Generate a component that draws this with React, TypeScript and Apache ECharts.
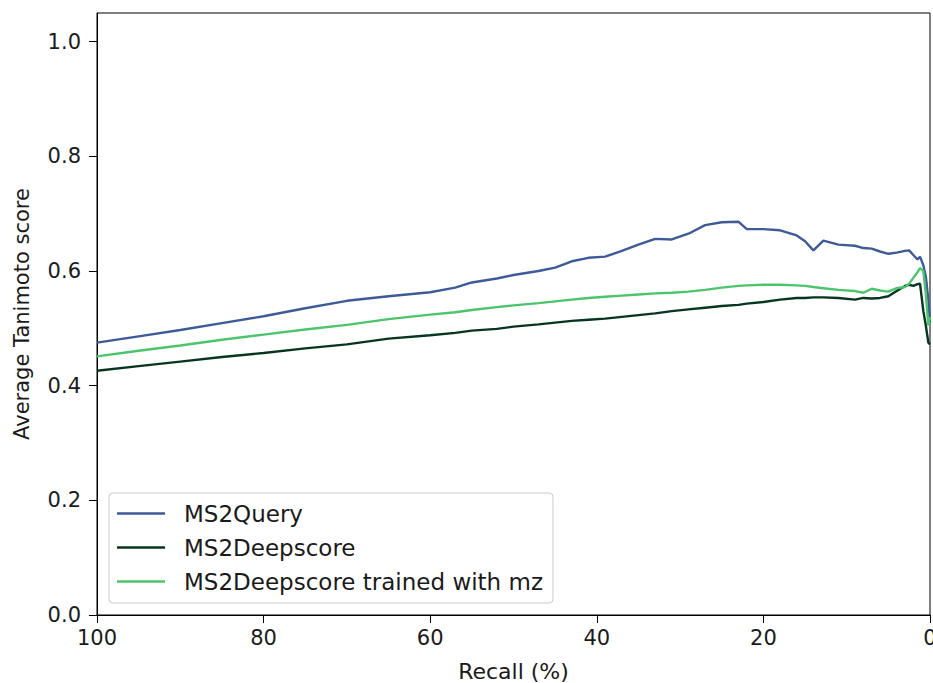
import React, { useEffect, useRef } from "react";
import * as echarts from "echarts";

const recall = [100, 95, 90, 85, 80, 75, 70, 65, 60, 57, 55, 52, 50, 47, 45, 43, 41, 39, 37, 35, 33, 31, 29, 27, 25, 23, 22, 20, 18, 16, 15, 14, 12.8, 11, 9, 8, 7, 6, 5, 4, 3, 2.5, 2, 1.5, 1.2, 0.8, 0.5, 0.2, 0];

const ms2query = [0.475, 0.486, 0.497, 0.509, 0.521, 0.535, 0.548, 0.556, 0.563, 0.571, 0.58, 0.587, 0.593, 0.6, 0.606, 0.617, 0.623, 0.625, 0.635, 0.646, 0.656, 0.655, 0.665, 0.68, 0.685, 0.686, 0.673, 0.673, 0.671, 0.662, 0.652, 0.636, 0.653, 0.646, 0.644, 0.64, 0.639, 0.634, 0.63, 0.632, 0.635, 0.636, 0.628, 0.62, 0.625, 0.61, 0.59, 0.55, 0.51];

const ms2deepscore = [0.426, 0.434, 0.442, 0.45, 0.457, 0.465, 0.472, 0.482, 0.488, 0.492, 0.496, 0.499, 0.503, 0.507, 0.51, 0.513, 0.515, 0.517, 0.52, 0.523, 0.526, 0.53, 0.533, 0.536, 0.539, 0.541, 0.543, 0.546, 0.55, 0.553, 0.553, 0.554, 0.554, 0.553, 0.55, 0.553, 0.552, 0.553, 0.556, 0.565, 0.574, 0.576, 0.574, 0.577, 0.578, 0.53, 0.505, 0.475, 0.472];

const ms2deepscoreMz = [0.451, 0.461, 0.47, 0.48, 0.489, 0.498, 0.506, 0.516, 0.524, 0.528, 0.532, 0.537, 0.54, 0.544, 0.547, 0.55, 0.553, 0.555, 0.557, 0.559, 0.561, 0.562, 0.564, 0.567, 0.571, 0.574, 0.575, 0.576, 0.576, 0.575, 0.574, 0.572, 0.57, 0.567, 0.565, 0.562, 0.569, 0.566, 0.564, 0.57, 0.572, 0.578, 0.588, 0.598, 0.605, 0.6, 0.56, 0.505, 0.52];

const seriesNames = ["MS2Query", "MS2Deepscore", "MS2Deepscore trained with mz"];
const seriesColors = ["#3f5a98", "#083520", "#4cc46c"];
const yTicks = [0, 0.2, 0.4, 0.6, 0.8, 1.0];

const FONT = "DejaVu Sans";
const TEXT = "#1a1a1a";

export default function App() {
  const ref = useRef<HTMLDivElement>(null);
  useEffect(() => {
    if (!ref.current) return;
    const chart = echarts.init(ref.current, undefined, { renderer: "svg" });
    const allData = [ms2query, ms2deepscore, ms2deepscoreMz];
    chart.setOption({
      animation: false,
      textStyle: { fontFamily: FONT },
      grid: {
        left: 97,
        right: 3,
        top: 13,
        bottom: 68,
        show: true,
        borderColor: "#000",
        borderWidth: 1,
        containLabel: false,
        outerBoundsMode: "none",
      },
      legend: {
        orient: "vertical",
        left: 109,
        top: 493,
        padding: [9, 10, 10, 8],
        itemGap: 11,
        itemWidth: 48,
        itemHeight: 2.5,
        icon: "rect",
        backgroundColor: "rgba(255,255,255,0.8)",
        borderColor: "#cccccc",
        borderWidth: 1,
        borderRadius: 4,
        textStyle: { fontFamily: FONT, fontSize: 23, color: TEXT, padding: [0, 0, 0, 14] },
        data: seriesNames,
      },
      xAxis: {
        type: "value",
        inverse: true,
        min: 0,
        max: 100,
        interval: 20,
        name: "Recall (%)",
        nameLocation: "middle",
        nameGap: 45,
        nameTextStyle: { fontFamily: FONT, fontSize: 22, color: TEXT },
        axisLine: { show: true, onZero: false, lineStyle: { color: "#000", width: 1 } },
        axisTick: { show: true, inside: false, length: 8, lineStyle: { color: "#000" } },
        axisLabel: { fontFamily: FONT, fontSize: 21, color: TEXT, margin: 12 },
        splitLine: { show: false },
      },
      yAxis: {
        type: "value",
        min: 0,
        max: 1.05,
        name: "Average Tanimoto score",
        nameLocation: "middle",
        nameRotate: 90,
        nameGap: 65,
        nameTextStyle: { fontFamily: FONT, fontSize: 21, color: TEXT },
        axisLine: { show: true, onZero: false, lineStyle: { color: "#000", width: 1 } },
        axisTick: { show: true, inside: false, length: 8, lineStyle: { color: "#000" }, customValues: yTicks },
        axisLabel: {
          fontFamily: FONT,
          fontSize: 21,
          color: TEXT,
          margin: 16,
          customValues: yTicks,
          formatter: (v: number) => v.toFixed(1),
        },
        splitLine: { show: false },
      },
      series: seriesNames.map((name, i) => ({
        name,
        type: "line",
        symbol: "none",
        color: seriesColors[i],
        itemStyle: { color: seriesColors[i] },
        lineStyle: { color: seriesColors[i], width: 2.4 },
        data: recall.map((r, j) => [r, allData[i][j]]),
      })),
    });
    return () => chart.dispose();
  }, []);
  return <div ref={ref} style={{ width: 933, height: 683, position: "absolute", left: 0, top: 0 }} />;
}
